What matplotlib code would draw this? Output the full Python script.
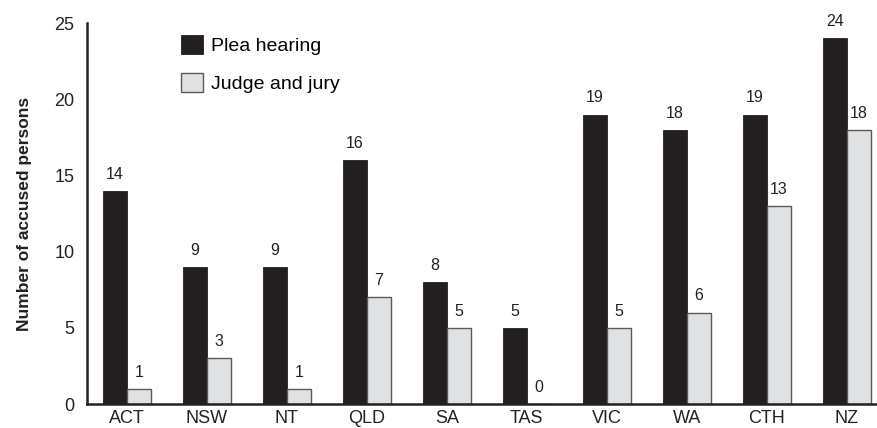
import matplotlib
matplotlib.use("Agg")
import matplotlib.pyplot as plt
import numpy as np

plt.rcParams["font.family"] = ["Liberation Sans", "DejaVu Sans"]

# data
regions = ["ACT", "NSW", "NT", "QLD", "SA", "TAS", "VIC", "WA", "CTH", "NZ"]
plea = [14, 9, 9, 16, 8, 5, 19, 18, 19, 24]
jury = [1, 3, 1, 7, 5, 0, 5, 6, 13, 18]

DARK = "#231f20"
LIGHT = "#e0e1e2"
EDGE = "#5a5a5a"

fig = plt.figure(figsize=(8.78, 4.28), dpi=100)
ax = fig.add_axes([0.099, 0.056, 0.901, 0.890])

x = np.arange(len(regions))
w = 0.3
b1 = ax.bar(x - w / 2, plea, w, color=DARK, edgecolor=DARK, linewidth=0.6,
            label="Plea hearing")
b2 = ax.bar(x + w / 2, jury, w, color=LIGHT, edgecolor=EDGE, linewidth=1.0,
            label="Judge and jury")

for bars, vals in ((b1, plea), (b2, jury)):
    for bar, v in zip(bars, vals):
        ax.text(bar.get_x() + bar.get_width() / 2, v + 0.6, str(v),
                ha="center", va="bottom", fontsize=11.5, color="#222222")

ax.set_xlim(-0.5, 9.39)
ax.set_ylim(0, 25)
ax.set_yticks([0, 5, 10, 15, 20, 25])
ax.set_xticks(x)
ax.set_xticklabels(regions)
ax.tick_params(axis="both", length=0, labelsize=13, colors="#222222")
ax.tick_params(axis="y", pad=9)
ax.tick_params(axis="x", pad=4)
for s in ("top", "right"):
    ax.spines[s].set_visible(False)
for s in ("left", "bottom"):
    ax.spines[s].set_linewidth(1.8)
    ax.spines[s].set_color("#222222")

ax.set_ylabel("Number of accused persons", fontsize=12.5, fontweight="bold",
              labelpad=16, color="#222222")

ax.legend(loc="upper left", bbox_to_anchor=(0.097, 1.015), frameon=False,
          fontsize=14, handlelength=1.1, handleheight=1.1, labelspacing=0.95,
          handletextpad=0.45)

fig.savefig("out.png", dpi=100)
